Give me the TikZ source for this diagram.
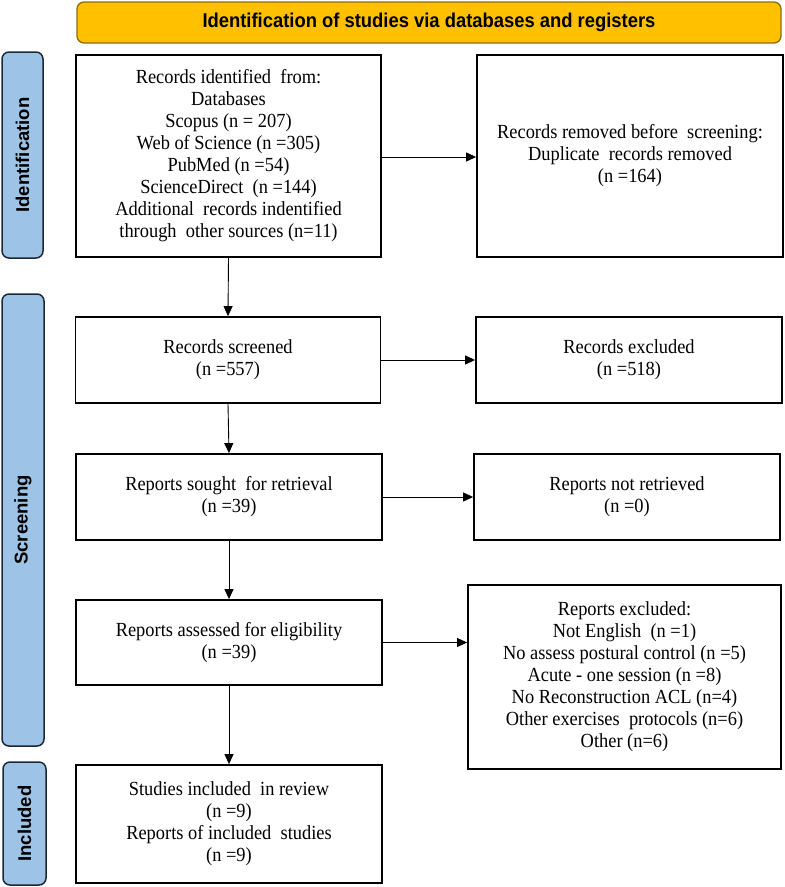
\documentclass[tikz,border=0pt]{standalone}
\usepackage{fontspec}
\setmainfont[FakeStretch=0.92]{Liberation Serif}
\setsansfont{Liberation Sans}
\usetikzlibrary{arrows.meta}
\definecolor{bannerfill}{HTML}{FFC000}
\definecolor{bannerline}{HTML}{8C6D00}
\definecolor{labelfill}{HTML}{9DC3E6}
\definecolor{labelline}{HTML}{1C2836}
\tikzset{
  box/.style={draw=black, line width=1.8pt, fill=white, inner sep=0pt, align=center,
    font=\fontsize{20}{22}\selectfont},
  banner/.style={draw=bannerline, line width=1.3pt, fill=bannerfill, rounded corners=7pt,
    inner sep=0pt, minimum width=704pt, minimum height=41pt},
  phase/.style={draw=labelline, line width=1.5pt, fill=labelfill, rounded corners=7pt,
    inner sep=0pt},
  phasetext/.style={rotate=90, font=\sffamily\bfseries\fontsize{18.5}{22}\selectfont},
  flow/.style={line width=0.9pt, -{Triangle[length=10pt,width=9pt]}}
}
\begin{document}
\begin{tikzpicture}[x=1pt,y=-1pt]
\useasboundingbox (0,0) rectangle (785,887);
% banner
\node[banner] (ban) at (429,22.5) {\sffamily\bfseries\fontsize{20}{24}\selectfont\scalebox{0.92}[1]{Identification of studies via databases and registers}};
% phase labels
\node[phase, minimum width=41pt, minimum height=206pt] (pid) at (22.5,155) {};
\node[phasetext] (tid) at (pid.center) {Identification};
\node[phase, minimum width=42pt, minimum height=452pt] (psc) at (23,520) {};
\node[phasetext] (tsc) at (psc.center) {Screening};
\node[phase, minimum width=43pt, minimum height=123pt] (pin) at (24.5,823.5) {};
\node[phasetext] (tin) at (pin.center) {Included};
% boxes
\node[box, minimum width=305pt, minimum height=202pt] (ident) at (228.5,156) {Records identified \ from:\\Databases\\Scopus (n = 207)\\Web of Science (n =305)\\PubMed (n =54)\\ScienceDirect \ (n =144)\\Additional \ records indentified\\through \ other sources (n=11)};
\node[box, minimum width=306pt, minimum height=202pt] (removed) at (630,156) {Records removed before \ screening:\\Duplicate \ records removed\\(n =164)};
\node[box, minimum width=305pt, minimum height=86pt] (screened) at (228,360) {Records screened\\(n =557)};
\node[box, minimum width=306pt, minimum height=86pt] (excluded) at (629,360) {Records excluded\\(n =518)};
\node[box, minimum width=306pt, minimum height=86pt] (sought) at (229,497) {Reports sought \ for retrieval\\(n =39)};
\node[box, minimum width=306pt, minimum height=86pt] (notret) at (627,497) {Reports not retrieved\\(n =0)};
\node[box, minimum width=306pt, minimum height=85pt] (assessed) at (229,642.5) {Reports assessed for eligibility\\(n =39)};
\node[box, minimum width=313pt, minimum height=184pt] (repexcl) at (624.5,677) {Reports excluded:\\Not English \ (n =1)\\No assess postural control (n =5)\\Acute - one session (n =8)\\No Reconstruction ACL (n=4)\\Other exercises \ protocols (n=6)\\Other (n=6)};
\node[box, minimum width=306pt, minimum height=118pt] (included) at (229,824) {Studies included \ in review\\(n =9)\\Reports of included \ studies\\(n =9)};
% connectors
\draw[flow] (ident.east |- 0,157) -- (removed.west |- 0,157);
\draw[flow] (ident.south) -- (screened.north);
\draw[flow] (screened.east) -- (excluded.west);
\draw[flow] (screened.south) -- (sought.north);
\draw[flow] (sought.east) -- (notret.west);
\draw[flow] (sought.south) -- (assessed.north);
\draw[flow] (assessed.east) -- (repexcl.west |- assessed.east);
\draw[flow] (assessed.south) -- (included.north);
\end{tikzpicture}
\end{document}
